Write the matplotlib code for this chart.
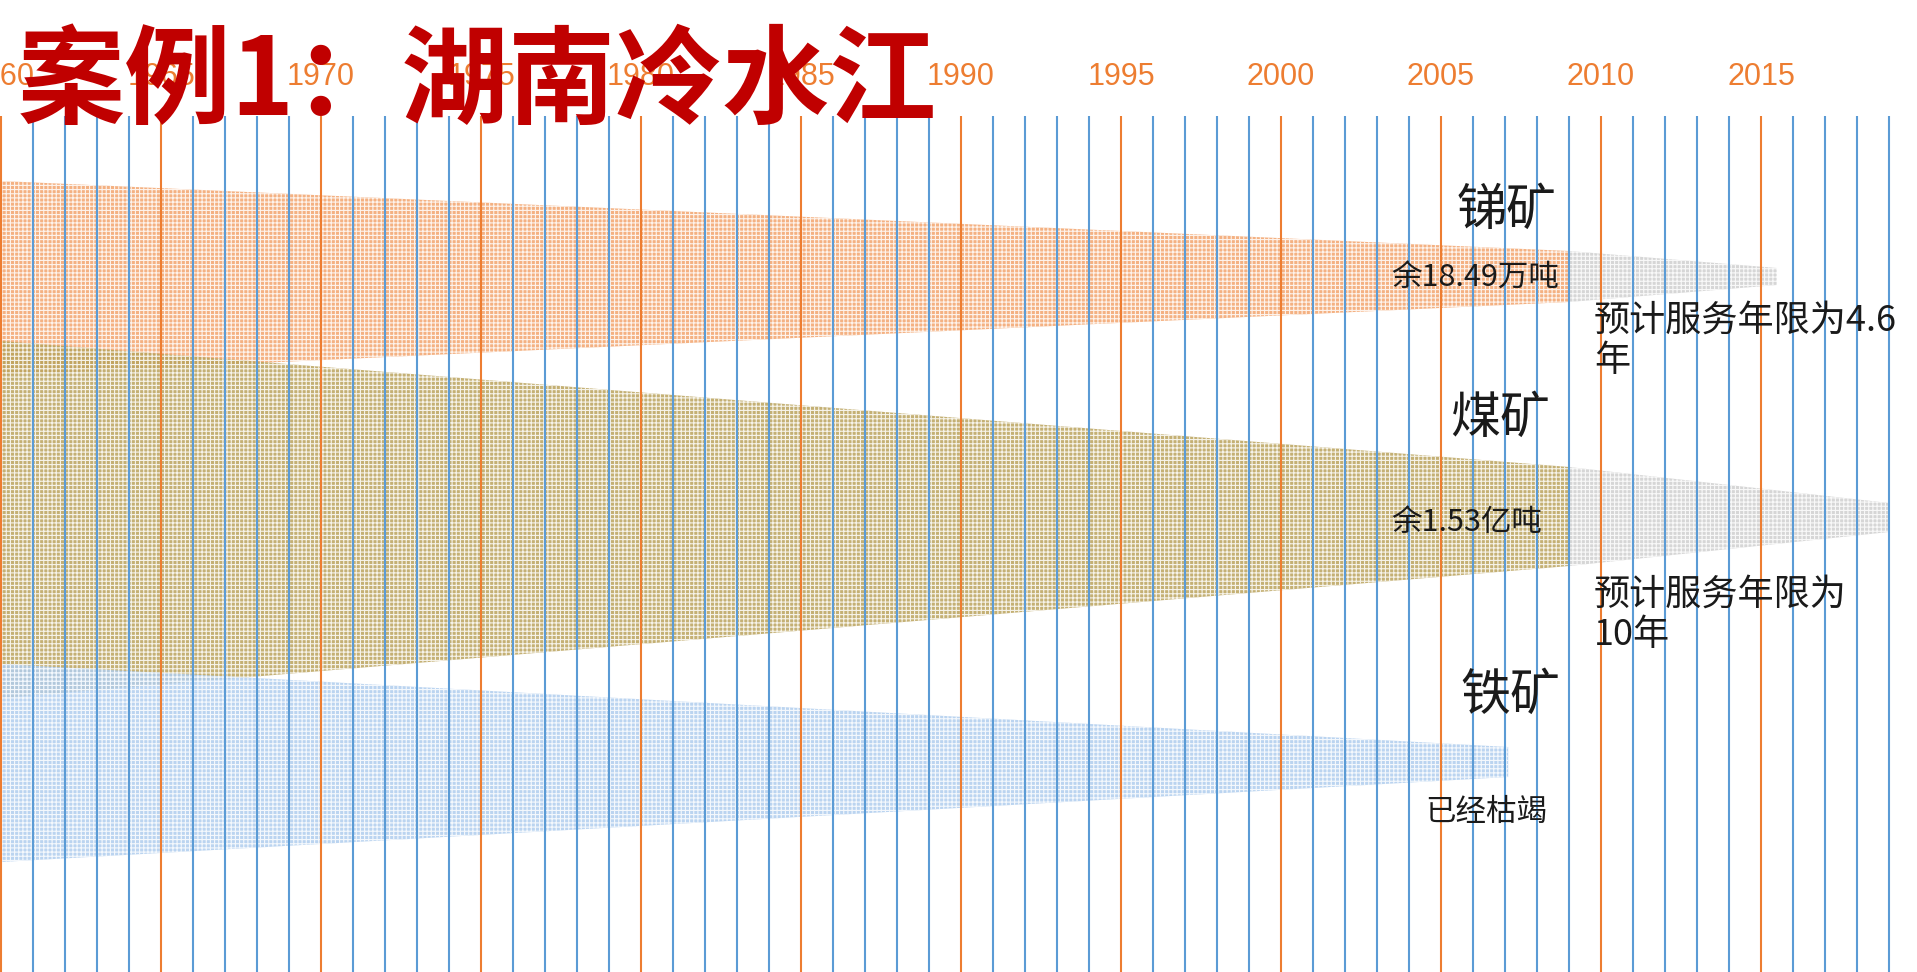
import numpy as np
import matplotlib
matplotlib.use("Agg")
import matplotlib.pyplot as plt

plt.rcParams['font.family'] = ['Noto Sans CJK SC', 'DejaVu Sans']
plt.rcParams['hatch.linewidth'] = 0.8

# timeline: one vertical line per year, orange every 5 years
years = np.arange(1960, 2020)
label_years = np.arange(1960, 2020, 5)

# bands: [start year, end year], edges in row units (0 = top of slide)
sb_years = [1960, 2009.0]
sb_top = [181, 251]
sb_bottom = [375, 302]
sb_rest_years = [2009.0, 2015.5]
sb_rest_top = [251, 268]
sb_rest_bottom = [302, 285]

coal_years = [1960, 2009.0]
coal_top = [341, 467]
coal_bottom = [698, 566]
coal_rest_years = [2009.0, 2019.0]
coal_rest_top = [467, 503]
coal_rest_bottom = [566, 532]

fe_years = [1960, 2007.1]
fe_top = [664, 747]
fe_bottom = [862, 777]

W, H = 1917, 972
fig = plt.figure(figsize=(W / 100, H / 100), dpi=100)
ax = fig.add_axes([0, 0, 1, 1])
x0 = 1960 - 1 / 32
x1 = 1960 + (W - 1) / 32
ax.set_xlim(x0, x1)
ax.set_ylim(H, 0)
ax.axis('off')


def px(x):
    # slide pixel column -> year
    return 1960 + (x - 1) / 32


def band(xs, top, bottom, face, z):
    ax.fill_between(xs, top, bottom, facecolor=face, edgecolor='white',
                    hatch='++++', linewidth=0, alpha=0.85, zorder=z)


band(sb_years, sb_top, sb_bottom, '#F3A46C', 1)
band(sb_rest_years, sb_rest_top, sb_rest_bottom, '#CFCFCF', 1)
band(coal_years, coal_top, coal_bottom, '#BAA35C', 1.1)
band(coal_rest_years, coal_rest_top, coal_rest_bottom, '#CFCFCF', 1.1)
band(fe_years, fe_top, fe_bottom, '#AFCDEE', 1.2)

cols = ['#ED7D31' if y % 5 == 0 else '#5B9BD5' for y in years]
ax.vlines(years, 116, H, colors=cols, linewidth=1.5, zorder=2)

for y in label_years:
    ax.text(y, 77, str(y), ha='center', va='center', fontsize=22,
            color='#ED7D31', family=['Liberation Sans', 'DejaVu Sans'], zorder=3)

tc = '#1a1a1a'
ax.text(px(1507), 211, '锑矿', ha='center', va='center', fontsize=36, color=tc, zorder=3)
ax.text(px(1391), 278, '余18.49万吨', ha='left', va='center', fontsize=22, color=tc, zorder=3)
ax.text(px(1594), 341, '预计服务年限为4.6\n年', ha='left', va='center', fontsize=26,
        color=tc, linespacing=1.15, zorder=3)
ax.text(px(1500), 419, '煤矿', ha='center', va='center', fontsize=36, color=tc, zorder=3)
ax.text(px(1391), 522, '余1.53亿吨', ha='left', va='center', fontsize=22, color=tc, zorder=3)
ax.text(px(1594), 615, '预计服务年限为\n10年', ha='left', va='center', fontsize=26,
        color=tc, linespacing=1.15, zorder=3)
ax.text(px(1510), 696, '铁矿', ha='center', va='center', fontsize=36, color=tc, zorder=3)
ax.text(px(1425), 812, '已经枯竭', ha='left', va='center', fontsize=22, color=tc, zorder=3)

fig.text(18 / W, 1 - 84 / H, '案例1：湖南冷水江', ha='left', va='center', fontsize=77,
         fontweight='bold', color='#C00000', zorder=5)

fig.savefig('out.png', dpi=100)
